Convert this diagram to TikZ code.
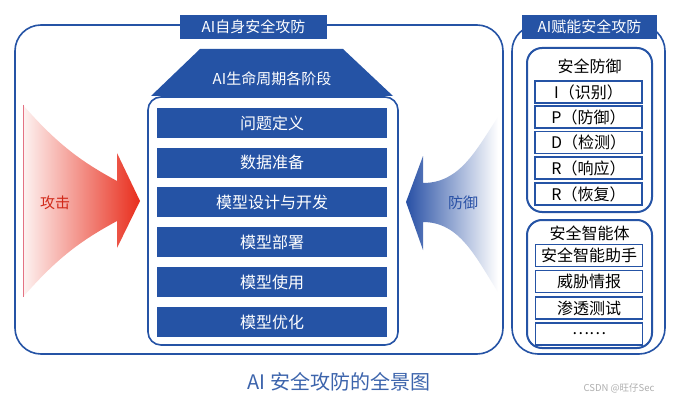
\documentclass[tikz,border=0pt]{standalone}
\usepackage{fontspec}
\setmainfont{Noto Sans CJK SC}
\definecolor{mblue}{RGB}{37,83,165}
\definecolor{capblue}{RGB}{60,100,172}
\definecolor{ared}{RGB}{232,45,28}
\definecolor{dblue}{RGB}{40,80,165}
\definecolor{wmgray}{RGB}{175,175,175}
\begin{document}
\begin{tikzpicture}[x=1pt,y=-1pt,
  fs/.style={font=\fontsize{#1}{#1}\selectfont},
  bigbox/.style={draw=mblue,line width=1.6pt,rounded corners=26pt,minimum width=#1},
  tabbox/.style={fill=mblue,text=white,fs=15,inner sep=0pt,minimum height=24pt},
  stagebar/.style={fill=mblue,text=white,fs=16,inner sep=0pt,minimum width=230pt,minimum height=30pt},
  innerbox/.style={draw=mblue,line width=2pt,rounded corners=15pt,minimum width=125pt,inner sep=0pt},
  itembox/.style={draw=mblue,line width=1.8pt,fill=white,text=black,fs=16,inner sep=0pt,minimum width=107pt,minimum height=22pt},
  ]
\useasboundingbox (0,0) rectangle (677,401);
\fill[white] (0,0) rectangle (677,401);

% left big container
\node[bigbox=488pt,minimum height=329pt] (leftbox) at (259,189.5) {};
\node[tabbox,minimum width=147pt] (lefttab) at (253.5,27) {AI自身安全攻防};

% right big container
\node[bigbox=153pt,minimum height=329pt] (rightbox) at (588.5,189.5) {};
\node[tabbox,minimum width=135pt] (righttab) at (589.5,27) {AI赋能安全攻防};

% attack arrow
\shade[left color=ared!6, right color=ared]
  (23,105) .. controls (58,145) and (82,162) .. (117,181) -- (117,153) -- (140,201)
  -- (117,248) -- (117,221) .. controls (82,240) and (58,257) .. (23,297) -- cycle;
\draw[ared!45!purple!60,line width=0.5pt] (23,105) -- (23,297);
\node[fs=15,text=ared!90!black] (attack) at (55,203) {攻击};

% defense arrow
\shade[left color=dblue, right color=white]
  (498,117) .. controls (476,150) and (460,183) .. (423,183) -- (423,156) -- (406,202)
  -- (423,250) -- (423,222) .. controls (460,222) and (476,258) .. (498,292) -- cycle;
\node[fs=15,text=dblue] (defend) at (463,203) {防御};

% lifecycle header
\fill[mblue] (151,96) -- (200,49) -- (343,49) -- (393,96) -- cycle;
\node[fs=15,text=white] (header) at (272,79) {AI生命周期各阶段};

% lifecycle container
\node[draw=mblue,line width=1.6pt,rounded corners=13pt,minimum width=250pt,minimum height=248pt] (stagebox) at (273,221) {};

\node[stagebar] (s1) at (272,123) {问题定义};
\node[stagebar] (s2) at (272,162.5) {数据准备};
\node[stagebar] (s3) at (272,202) {模型设计与开发};
\node[stagebar] (s4) at (272,242) {模型部署};
\node[stagebar] (s5) at (272,282) {模型使用};
\node[stagebar] (s6) at (272,322) {模型优化};

% defense group
\node[innerbox,minimum height=164pt] (g1) at (589.5,130) {};
\node[fs=16] (g1t) at (589.5,66) {安全防御};
\node[itembox] (i1) at (588.5,92) {I（识别）};
\node[itembox] (i2) at (588.5,117) {P（防御）};
\node[itembox] (i3) at (588.5,142.5) {D（检测）};
\node[itembox] (i4) at (588.5,168) {R（响应）};
\node[itembox] (i5) at (588.5,194) {R（恢复）};

% agent group
\node[innerbox,minimum height=128pt] (g2) at (589.5,284) {};
\node[fs=16] (g2t) at (589.5,233) {安全智能体};
\node[itembox] (j1) at (589,255.5) {安全智能助手};
\node[itembox] (j2) at (589,281.5) {威胁情报};
\node[itembox] (j3) at (589,308) {渗透测试};
\node[itembox] (j4) at (589,334) {……};

% caption
\node[fs=20,text=capblue] (caption) at (339,382) {AI 安全攻防的全景图};
\node[fs=9.5,text=wmgray] (wm) at (619,388) {CSDN @旺仔Sec};
\end{tikzpicture}
\end{document}
